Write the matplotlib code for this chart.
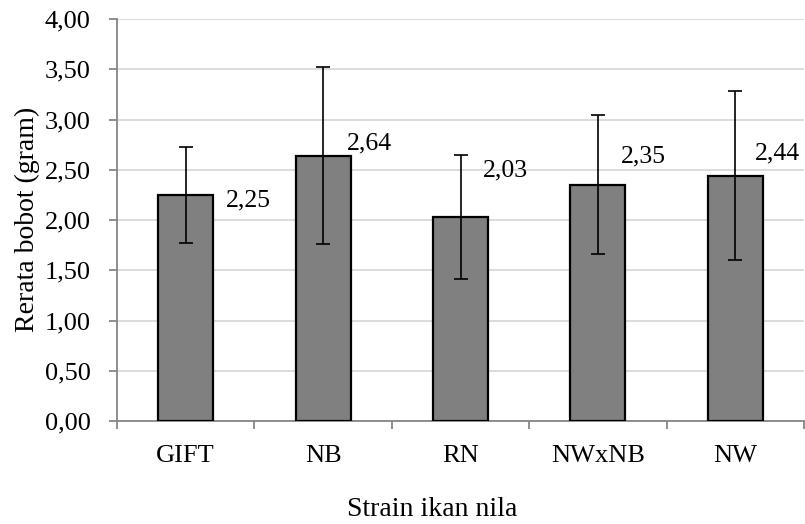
#!/usr/bin/env python3
# -*- encoding: utf-8 -*-

import matplotlib
matplotlib.use("Agg")
import matplotlib.pyplot as plt
import numpy as np

# data
strains = ["GIFT", "NB", "RN", "NWxNB", "NW"]
means = [2.25, 2.64, 2.03, 2.35, 2.44]
errs = [0.48, 0.88, 0.62, 0.69, 0.84]
labels = ["2,25", "2,64", "2,03", "2,35", "2,44"]
yticks = [0.0, 0.5, 1.0, 1.5, 2.0, 2.5, 3.0, 3.5, 4.0]

# where the value labels sit (x offset from bar centre, y baseline)
label_dx = [0.29, 0.17, 0.16, 0.17, 0.14]
label_y = [2.13, 2.70, 2.43, 2.57, 2.60]

plt.rcParams['font.family'] = ['Liberation Serif', 'DejaVu Serif']

fig = plt.figure(figsize=(8.05, 5.24), dpi=100)
ax = fig.add_axes([117 / 805, 1 - 421 / 524, 687 / 805, 402 / 524])

x = np.arange(len(strains))
ax.bar(x, means, width=0.4, color='#808080', edgecolor='black', linewidth=1.6, zorder=3)
ax.errorbar(x, means, yerr=errs, fmt='none', ecolor='black', elinewidth=1.2,
            capsize=5, capthick=1.2, zorder=4)

for i in range(len(strains)):
    ax.text(x[i] + label_dx[i], label_y[i], labels[i], fontsize=18.5, ha='left', va='baseline')

ax.set_xlim(-0.5, len(strains) - 0.5)
ax.set_ylim(0, 4)
ax.set_yticks(yticks)
ax.set_yticklabels([("%.2f" % v).replace('.', ',') for v in yticks], fontsize=19)

# category labels between tick marks
ax.set_xticks(np.arange(-0.5, len(strains), 1.0))
ax.set_xticklabels([])
ax.set_xticks(x, minor=True)
ax.set_xticklabels(strains, minor=True, fontsize=19)
ax.tick_params(axis='x', which='minor', length=0, pad=17)
ax.tick_params(axis='x', which='major', length=6, width=1.3, color='#868686', direction='out')
ax.tick_params(axis='y', length=6, width=1.3, color='#868686', direction='out', pad=13)

ax.grid(axis='y', color='#d9d9d9', linewidth=1.3, zorder=0)
ax.set_axisbelow(True)
for s in ['top', 'right']:
    ax.spines[s].set_visible(False)
for s in ['left', 'bottom']:
    ax.spines[s].set_color('#868686')
    ax.spines[s].set_linewidth(1.3)

fig.text(432 / 805, 1 - 510 / 524, "Strain ikan nila", fontsize=20, ha='center', va='center')
fig.text(27 / 805, 1 - 219 / 524, "Rerata bobot (gram)", fontsize=20, ha='center', va='center',
         rotation=90)

plt.savefig('out.png', dpi=100)
